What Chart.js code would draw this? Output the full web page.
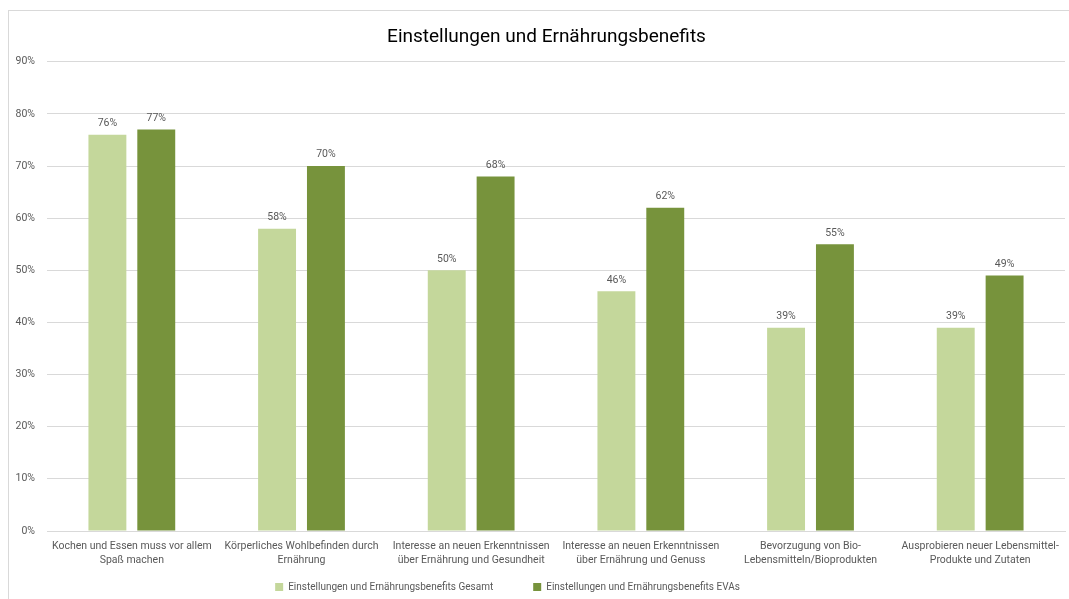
<!DOCTYPE html>
<html>
<head>
<meta charset="utf-8">
<script src="https://cdn.jsdelivr.net/npm/chart.js@4"></script>
<style>
html,body{margin:0;padding:0;background:#fff;width:1069px;height:599px;overflow:hidden;}
#frame{position:absolute;left:8px;top:10px;width:1080px;height:600px;border-left:1px solid #d9d9d9;border-top:1px solid #d9d9d9;}
#wrap{position:absolute;left:0;top:0;width:1069px;height:599px;}
</style>
</head>
<body>
<div id="frame"></div>
<div id="wrap"><canvas id="c"></canvas></div>
<script>
const categories = [
  ["Kochen und Essen muss vor allem", "Spaß machen"],
  ["Körperliches Wohlbefinden durch", "Ernährung"],
  ["Interesse an neuen Erkenntnissen", "über Ernährung und Gesundheit"],
  ["Interesse an neuen Erkenntnissen", "über Ernährung und Genuss"],
  ["Bevorzugung von Bio-", "Lebensmitteln/Bioprodukten"],
  ["Ausprobieren neuer Lebensmittel-", "Produkte und Zutaten"]
];
const seriesNames = [
  "Einstellungen und Ernährungsbenefits Gesamt",
  "Einstellungen und Ernährungsbenefits EVAs"
];
const gesamt = [76, 58, 50, 46, 39, 39];
const evas = [77, 70, 68, 62, 55, 49];
const titleText = "Einstellungen und Ernährungsbenefits";

const FONT = "Roboto, 'DejaVu Sans', sans-serif";
const GRAY = "#595959";
const LEGEND_GAP = 40;

const valueLabels = {
  id: 'valueLabels',
  afterDatasetsDraw(chart) {
    const ctx = chart.ctx;
    ctx.save();
    ctx.font = "10.5px " + FONT;
    ctx.fillStyle = GRAY;
    ctx.textAlign = "center";
    ctx.textBaseline = "bottom";
    chart.data.datasets.forEach((ds, i) => {
      const meta = chart.getDatasetMeta(i);
      meta.data.forEach((bar, j) => {
        ctx.fillText(ds.data[j] + "%", bar.x, bar.y - 6);
      });
    });
    ctx.restore();
  }
};

// small position adjustments of the title and legend boxes
const boxTweak = {
  id: 'boxTweak',
  beforeLayout(chart) {
    const lg = chart.legend;
    if (lg && !lg._tweaked) {
      lg._tweaked = true;
      const fit = lg.fit.bind(lg);
      lg.fit = function () { fit(); this.height = 32; };
      const draw = lg.draw.bind(lg);
      lg.draw = function () {
        const t = this.top, l = this.left, r = this.right;
        this.top = t - LEGEND_GAP + 15;
        this.left = l - 25; this.right = r - 25;
        draw();
        this.top = t; this.left = l; this.right = r;
      };
    }
    const tb = chart.titleBlock;
    if (tb && !tb._tweaked) {
      tb._tweaked = true;
      const draw = tb.draw.bind(tb);
      tb.draw = function () {
        const l = this.left, r = this.right;
        this.left = l + 14; this.right = r + 14;
        draw();
        this.left = l; this.right = r;
      };
    }
  }
};

new Chart(document.getElementById('c'), {
  type: 'bar',
  data: {
    labels: categories,
    datasets: [
      { label: seriesNames[0], data: gesamt, backgroundColor: "#C4D79B", categoryPercentage: 0.576, barPercentage: 0.776 },
      { label: seriesNames[1], data: evas, backgroundColor: "#77933C", categoryPercentage: 0.576, barPercentage: 0.776 }
    ]
  },
  options: {
    responsive: true,
    maintainAspectRatio: false,
    animation: false,
    layout: { padding: { left: 0, right: 4, top: 26, bottom: 0 } },
    plugins: {
      title: {
        display: true,
        text: titleText,
        color: "#000",
        font: { family: FONT, size: 19, weight: 'normal' },
        padding: { top: 0, bottom: 13 }
      },
      legend: {
        position: 'bottom',
        labels: {
          boxWidth: 8, boxHeight: 8, color: GRAY,
          font: { family: FONT, size: 10 },
          padding: LEGEND_GAP
        }
      },
      tooltip: { enabled: false }
    },
    scales: {
      x: {
        grid: { display: false, drawTicks: false },
        border: { display: true, color: "#d9d9d9" },
        ticks: { color: GRAY, font: { family: FONT, size: 10.5, lineHeight: 1.3 }, padding: 9, maxRotation: 0, autoSkip: false },
        afterFit: s => { s.height = 36; }
      },
      y: {
        min: 0, max: 90,
        grid: { color: "#d9d9d9", drawTicks: false },
        border: { display: false },
        ticks: { stepSize: 10, color: GRAY, font: { family: FONT, size: 10.5 }, padding: 12, callback: v => v + "%" },
        afterFit: s => { s.width = 47; }
      }
    }
  },
  plugins: [valueLabels, boxTweak]
});
</script>
</body>
</html>
